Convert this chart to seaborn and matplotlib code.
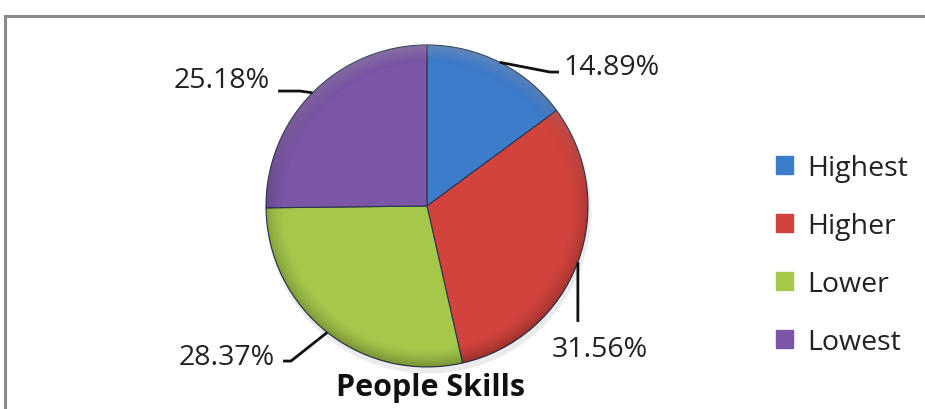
import numpy as np
import matplotlib
matplotlib.use("Agg")
import matplotlib.pyplot as plt
from matplotlib.patches import Patch, Rectangle, Circle
import seaborn as sns

# Survey shares for the "People Skills" item
categories = ["Highest", "Higher", "Lower", "Lowest"]
shares = [14.89, 31.56, 28.37, 25.18]
label_texts = ["14.89%", "31.56%", "28.37%", "25.18%"]
slice_colors = ["#3D7BCB", "#D3433D", "#A5C84B", "#7B55A6"]
title_text = "People Skills"

sns.set_theme(style="white")
plt.rcParams["font.family"] = ["Open Sans", "DejaVu Sans"]

W, H = 925, 410
fig = plt.figure(figsize=(W / 100, H / 100), dpi=100)
fig.patch.set_facecolor("white")

# Axes spanning the figure; one data unit = pie radius (161 px), centre at (427, 207) px
R_PX, CX, CY = 161.0, 427.0, 207.0
ax = fig.add_axes([0, 0, 1, 1])

palette = sns.color_palette(slice_colors)

# soft shadow beneath the pie
ax.add_patch(Circle((0.01, -0.03), 1.01, facecolor="#000000", alpha=0.08, lw=0, zorder=1))

wedges, _ = ax.pie(
    shares, colors=palette, startangle=90, counterclock=False, radius=1.0,
    center=(0, 0), frame=True,
    wedgeprops=dict(edgecolor="#2a3550", linewidth=0.8, zorder=2),
)
ax.set_xlim(-CX / R_PX, (W - CX) / R_PX)
ax.set_ylim(-(H - CY) / R_PX, CY / R_PX)
ax.axis("off")

# bevel-like shading: darker rim, gentle light from the top
n = 600
gx, gy = np.meshgrid(np.linspace(-1, 1, n), np.linspace(-1, 1, n))
rr = np.hypot(gx, gy)
shade = np.zeros((n, n, 4))
rim = np.clip((rr - 0.88) / 0.12, 0, 1) ** 1.5
shade[..., 3] = 0.28 * rim * (0.6 + 0.4 * np.clip(-gy, 0, 1))
img = ax.imshow(shade, extent=(-1, 1, -1, 1), origin="lower", zorder=3, interpolation="bilinear")
img.set_clip_path(Circle((0, 0), 1.0, transform=ax.transData))
light = np.zeros((n, n, 4))
light[..., :3] = 1.0
light[..., 3] = 0.22 * np.clip((rr - 0.9) / 0.1, 0, 1) * np.clip(gy, 0, 1)
img2 = ax.imshow(light, extent=(-1, 1, -1, 1), origin="lower", zorder=3, interpolation="bilinear")
img2.set_clip_path(Circle((0, 0), 1.0, transform=ax.transData))
ax.set_xlim(-CX / R_PX, (W - CX) / R_PX)
ax.set_ylim(-(H - CY) / R_PX, CY / R_PX)

# leader lines and value labels
cum = np.cumsum([0] + shares)
mid_angles = [np.deg2rad(90 - 3.6 * (cum[i] + shares[i] / 2)) for i in range(len(shares))]
edge_pts = [(np.cos(a), np.sin(a)) for a in mid_angles]

# (elbow, end of line, text position, alignment)
leader_layout = [
    ((0.764, 0.832), (0.82, 0.832), (0.850, 0.82), "left"),
    ((0.937, -0.72), (0.937, -0.72), (1.075, -0.93), "center"),
    ((-0.845, -0.963), (-0.894, -0.963), (-0.944, -0.981), "right"),
    ((-0.789, 0.714), (-0.925, 0.714), (-0.975, 0.739), "right"),
]
for (ex, ey), (elbow, end, tpos, ha), txt in zip(edge_pts, leader_layout, label_texts):
    ax.plot([ex, elbow[0], end[0]], [ey, elbow[1], end[1]], color="#111111", lw=2.0,
            solid_capstyle="butt", zorder=4)
    ax.text(tpos[0], tpos[1], txt, ha=ha, va="baseline", fontsize=20.5, color="#222222", zorder=5)

# legend on the right
handles = [Patch(facecolor=c, edgecolor=c) for c in palette]
fig.legend(
    handles, categories, loc="center left", bbox_to_anchor=(776 / W, 1 - 256 / H),
    bbox_transform=fig.transFigure, frameon=False, fontsize=20.5,
    handlelength=0.6, handleheight=0.6, handletextpad=0.5, labelspacing=1.05,
    borderpad=0, borderaxespad=0, labelcolor="#222222",
)

# chart title below the pie
fig.text(431 / W, 1 - 388 / H, title_text, ha="center", va="center", fontsize=22,
         fontweight="bold", color="#111111")

# chart-area frame
fig.patches.append(Rectangle((5 / W, -0.2), 1.0, (H - 17) / H + 0.2, transform=fig.transFigure,
                             fill=False, edgecolor="#8a8a8a", lw=2.2, clip_on=False))

fig.savefig("out.png", dpi=100, facecolor="white")
